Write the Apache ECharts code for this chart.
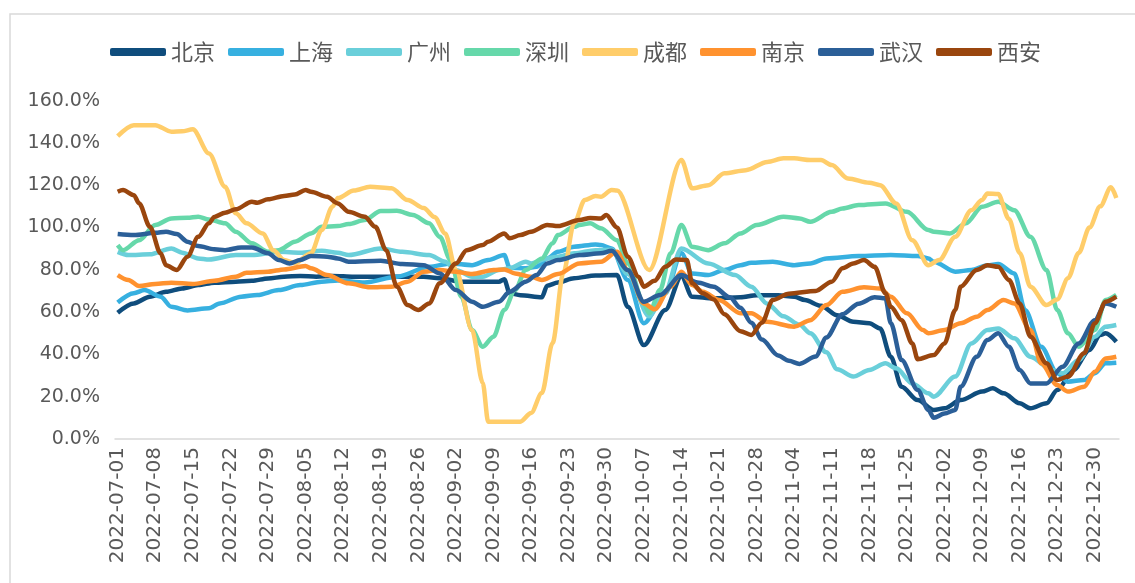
<!DOCTYPE html>
<html><head><meta charset="utf-8">
<script src="https://cdn.jsdelivr.net/npm/echarts@6/dist/echarts.min.js"></script>
<style>html,body{margin:0;padding:0;background:#fff}#c{width:1135px;height:583px}</style>
</head><body><div id="c"></div>
<script>
// categories: daily dates 2022-07-01 .. 2023-01-03
const startDate = [2022, 6, 1];
const dayCount = 187;
const categories = [];
for (let i = 0; i < dayCount; i++) {
  const d = new Date(Date.UTC(startDate[0], startDate[1], startDate[2]) + i * 86400000);
  categories.push(d.toISOString().slice(0, 10));
}
const cityNames = ['北京','上海','广州','深圳','成都','南京','武汉','西安'];
const yTicks = [0, 20, 40, 60, 80, 100, 120, 140, 160];

// [day index, value %]
const beijing = [[0,59.7],[3,64.1],[6,67.3],[9,69.6],[12,71.2],[15,72.8],[18,73.9],[22,74.4],[25,74.8],[28,75.9],[31,76.7],[34,77.1],[37,76.7],[40,77.1],[44,76.7],[48,76.7],[52,76.7],[57,76.7],[60,76],[64,74.4],[68,74.4],[71,74.4],[72,75.5],[73,69],[75,68],[79,67],[80,72.5],[82,74],[85,76],[89,77.3],[93,77.5],[95,62.5],[98,44.4],[102,61],[105,77],[107,67.3],[111,66.5],[116,67],[119,68],[123,68],[126,67.3],[128,65.7],[131,63],[134,58.5],[137,55.4],[140,54.7],[142,52.3],[144,38.9],[146,24.7],[149,18.4],[152,13.7],[154,14.5],[157,18.4],[161,22.4],[163,24],[165,21.6],[168,16.9],[170,14.5],[173,16.9],[175,23.2],[178,32.6],[181,42.1],[183,49.2],[184,50],[186,46]];
const shanghai = [[0,64.5],[3,68.9],[5,70.4],[8,67.3],[10,62.5],[13,60.8],[17,61.8],[19,64.1],[23,67.3],[26,68.1],[30,70.4],[34,72.8],[38,74.4],[41,75],[46,74],[52,76.7],[58,81.4],[62,83],[66,82.2],[69,84.6],[72,87],[73,81],[76,80.7],[78,81.4],[80,85.4],[82,88.5],[85,90.9],[89,92],[90,91.7],[92,90.1],[95,75.2],[98,54.7],[102,68.9],[105,87.8],[107,78.3],[110,77.5],[113,79.9],[116,82.2],[118,83.3],[122,83.8],[126,82.2],[129,83],[132,85.4],[138,86.5],[144,87],[149,86.5],[151,85.4],[152,83.8],[156,79.1],[159,79.9],[162,82.2],[164,82.7],[167,78.3],[169,61],[172,43.6],[175,31.1],[177,27.1],[180,27.9],[182,31.1],[184,35.8],[186,36.1]];
const guangzhou = [[0,88.5],[2,87],[6,87.3],[10,90.1],[12,88.1],[15,85.4],[17,84.9],[22,87],[25,87],[30,88.5],[34,88.1],[38,89],[41,88.1],[43,87],[49,90.1],[53,88.5],[58,87],[61,83.8],[63,79.9],[66,76.7],[68,76.7],[71,79.9],[73,80.7],[76,83.8],[77,83],[80,85.4],[82,86.2],[85,87.8],[89,89.3],[92,89.5],[95,78],[99,58],[102,70],[105,90.1],[110,83],[115,77.5],[118,72],[121,64],[124,58],[127,54],[129,50],[132,41],[134,33],[137,29.5],[140,32.6],[143,35.8],[145,33.4],[148,26.3],[151,21.6],[152,20],[156,29.5],[159,45.2],[162,51.5],[164,52.3],[167,47.6],[170,38.9],[174,32.6],[176,31.1],[179,37.3],[182,48.4],[184,53.1],[186,53.9]];
const shenzhen = [[0,91.7],[1,89.3],[4,94],[7,101.2],[10,104.3],[13,104.6],[15,105.1],[17,103.8],[20,102],[22,98],[25,92.5],[28,88.5],[30,89.3],[33,93.3],[36,97.2],[38,100.3],[41,100.7],[43,101.6],[46,103.5],[49,107.8],[52,107.9],[55,105.9],[58,102],[60,95.6],[62,84.6],[64,67.3],[66,51.5],[68,43.6],[70,48.4],[72,61],[74,70.4],[76,79.9],[79,85.4],[81,92.5],[82,96.4],[85,100.3],[86,101.2],[88,102],[90,99.6],[93,94],[95,83],[98,64.1],[99,59.4],[101,70.4],[103,87.8],[105,101.2],[107,90.9],[110,89.3],[113,92.5],[116,97.2],[119,101.2],[124,105.1],[127,104.3],[129,102.7],[133,107.4],[135,109],[138,110.6],[143,111.4],[147,107.4],[151,98.8],[152,98],[155,97.2],[158,102],[161,109.8],[164,112.2],[167,108.2],[170,95.6],[173,79.9],[175,61],[177,50],[179,43.6],[182,51.5],[184,65.7],[186,68.1]];
const chengdu = [[0,143.2],[3,148.4],[7,148.4],[10,145.3],[12,145.5],[14,146.4],[17,135],[20,119.3],[22,106.7],[24,102],[27,97.2],[29,89.3],[31,84.6],[33,83.1],[36,87.8],[38,98.8],[40,109.8],[41,113.9],[44,117.5],[47,119.3],[51,118.6],[54,113],[57,109.2],[59,105],[61,97.2],[63,79.9],[66,51.5],[68,26.5],[69,8.2],[75,8.2],[77,12.3],[79,21.7],[81,45.4],[83,78.5],[85,102],[87,113],[89,114.9],[90,114.5],[92,117.7],[93,117.5],[99,79.9],[105,131.9],[107,118.5],[110,120],[113,125.6],[117,127.1],[121,131],[124,132.7],[126,132.7],[129,131.9],[131,131.9],[133,129.5],[136,123.2],[140,121.2],[142,120],[145,111.4],[148,94],[151,82.2],[153,84.6],[156,95.6],[159,108.2],[161,113],[162,116.1],[164,115.8],[166,104],[168,88],[170,72],[173,63.3],[175,66],[177,76],[179,88],[181,100],[183,110],[185,119],[186,114]];
const nanjing = [[0,77.5],[2,75.2],[4,72.3],[7,73.3],[10,73.9],[14,73.3],[18,74.8],[22,76.7],[24,78.6],[28,79.1],[31,80.2],[35,81.8],[36,80.7],[39,77.5],[43,73.6],[47,71.7],[51,72],[54,74.4],[57,79.1],[60,79.9],[63,79.1],[66,78],[70,79.9],[72,80.2],[74,78.3],[77,76.7],[79,75.2],[82,78],[86,83],[90,83.8],[93,88.5],[95,79.9],[98,64.1],[100,61.3],[103,72],[105,79.1],[107,72.8],[109,69.6],[112,65.7],[116,59.5],[118,59.4],[121,55.4],[126,53.1],[129,56.2],[132,63.3],[135,69.6],[139,71.7],[142,71.2],[144,67.3],[147,59.4],[150,51.5],[151,50],[154,51.5],[157,54.7],[160,57.8],[162,61],[165,65.7],[167,64.1],[170,51.5],[172,35.8],[175,25.5],[177,22.4],[180,24.7],[182,31.8],[184,38.1],[186,38.9]];
const wuhan = [[0,96.9],[3,96.4],[7,97.5],[9,98],[11,96.9],[13,93.3],[15,91.2],[18,89.7],[20,89.3],[23,90.6],[25,90.6],[28,87.8],[30,84.6],[32,83],[34,84.6],[36,86.5],[39,86.2],[41,85.4],[43,83.8],[49,84.3],[53,82.7],[57,82.2],[60,78.3],[63,70.4],[66,64.9],[68,62.5],[71,64.9],[73,69.6],[76,74.4],[78,77.5],[80,83],[82,84.6],[86,87],[90,87.8],[92,89],[95,79.9],[98,64.9],[101,68.1],[105,77.5],[108,74],[111,72],[114,67],[116,62],[118,55],[120,47],[123,39.5],[125,37],[127,35.5],[130,39],[132,48],[135,59],[138,64],[141,67],[143,66.5],[144,54.7],[146,37.3],[149,23.2],[151,13.7],[152,10],[154,12],[156,13.7],[157,24.7],[160,38.9],[162,46.8],[164,50],[166,43.6],[168,32.6],[170,26.3],[173,26.3],[176,34.2],[179,45.2],[182,56.2],[184,64.1],[186,62.5]];
const xian = [[0,116.9],[1,117.7],[3,115.3],[4,111.4],[6,100.3],[8,87.8],[9,82.2],[11,79.9],[13,86.2],[15,95.6],[17,102],[18,105],[20,107],[22,108.6],[25,112.2],[26,111.7],[28,113.3],[31,114.9],[33,115.6],[35,117.7],[36,116.9],[39,114.5],[41,111.4],[43,107.4],[46,105.1],[48,100.3],[50,89.3],[52,72],[54,63.3],[56,61],[58,64.1],[60,73.6],[63,83],[65,89.3],[68,91.7],[69,93.3],[72,97.2],[73,94.9],[75,96.4],[77,98],[80,101.2],[82,100.7],[86,103.5],[88,104.5],[90,104.3],[91,105.9],[93,100],[95,86.2],[97,76.7],[98,72],[100,74.8],[102,81.4],[104,84.9],[106,84.6],[107,73.6],[109,68.9],[111,66],[113,59],[116,51],[118,49.2],[120,55],[122,65.7],[125,68.7],[130,70],[133,74.4],[135,80.7],[137,83],[139,84.6],[141,81.4],[143,68.9],[144,62.5],[146,56.2],[148,45.2],[149,37.7],[152,39.7],[154,45.2],[156,61],[157,72],[160,79.9],[162,82.2],[164,81.4],[166,75.2],[168,64.1],[170,48.4],[173,35.8],[175,27.9],[177,29.5],[180,40.5],[182,54.7],[184,64.9],[186,67.3]];

const seriesData = [beijing, shanghai, guangzhou, shenzhen, chengdu, nanjing, wuhan, xian];
const colors = ['#0f4d7d','#37b0e0','#6acfda','#66d8aa','#ffcd6a','#ff922f','#2b5f98','#9a460e'];

const chart = echarts.init(document.getElementById('c'), null, {renderer: 'canvas'});
chart.setOption({
  animation: false,
  backgroundColor: '#fff',
  color: colors,
  graphic: [{type: 'rect', shape: {x: 10, y: 14, width: 1200, height: 700}, style: {fill: 'none', stroke: '#d9d9d9', lineWidth: 1.5}, silent: true}],
  legend: {
    data: cityNames, left: 105, top: 36, itemWidth: 56, itemHeight: 8, itemGap: 13,
    icon: 'roundRect',
    textStyle: {fontFamily: 'Noto Sans CJK SC', fontSize: 22, color: '#595959'}
  },
  grid: {left: 115, right: 16, top: 100.6, bottom: 144},
  xAxis: {
    type: 'category', data: categories, boundaryGap: true,
    axisLine: {lineStyle: {color: '#d9d9d9', width: 1.5}},
    axisTick: {show: false},
    axisLabel: {rotate: 90, interval: 6, margin: 8, fontFamily: 'DejaVu Sans', fontSize: 20, color: '#595959'}
  },
  yAxis: {
    type: 'value', min: yTicks[0], max: yTicks[yTicks.length - 1], interval: 20,
    splitLine: {show: false}, axisLine: {show: false}, axisTick: {show: false},
    axisLabel: {margin: 15, fontFamily: 'DejaVu Sans', fontSize: 19, color: '#595959', formatter: v => v.toFixed(1) + '%'}
  },
  series: cityNames.map((n, i) => ({
    name: n, type: 'line', data: seriesData[i], showSymbol: false, symbol: 'none',
    smooth: 0.3, smoothMonotone: 'x',
    lineStyle: {width: 4.5, color: colors[i]}, itemStyle: {color: colors[i]}
  }))
});
</script></body></html>
